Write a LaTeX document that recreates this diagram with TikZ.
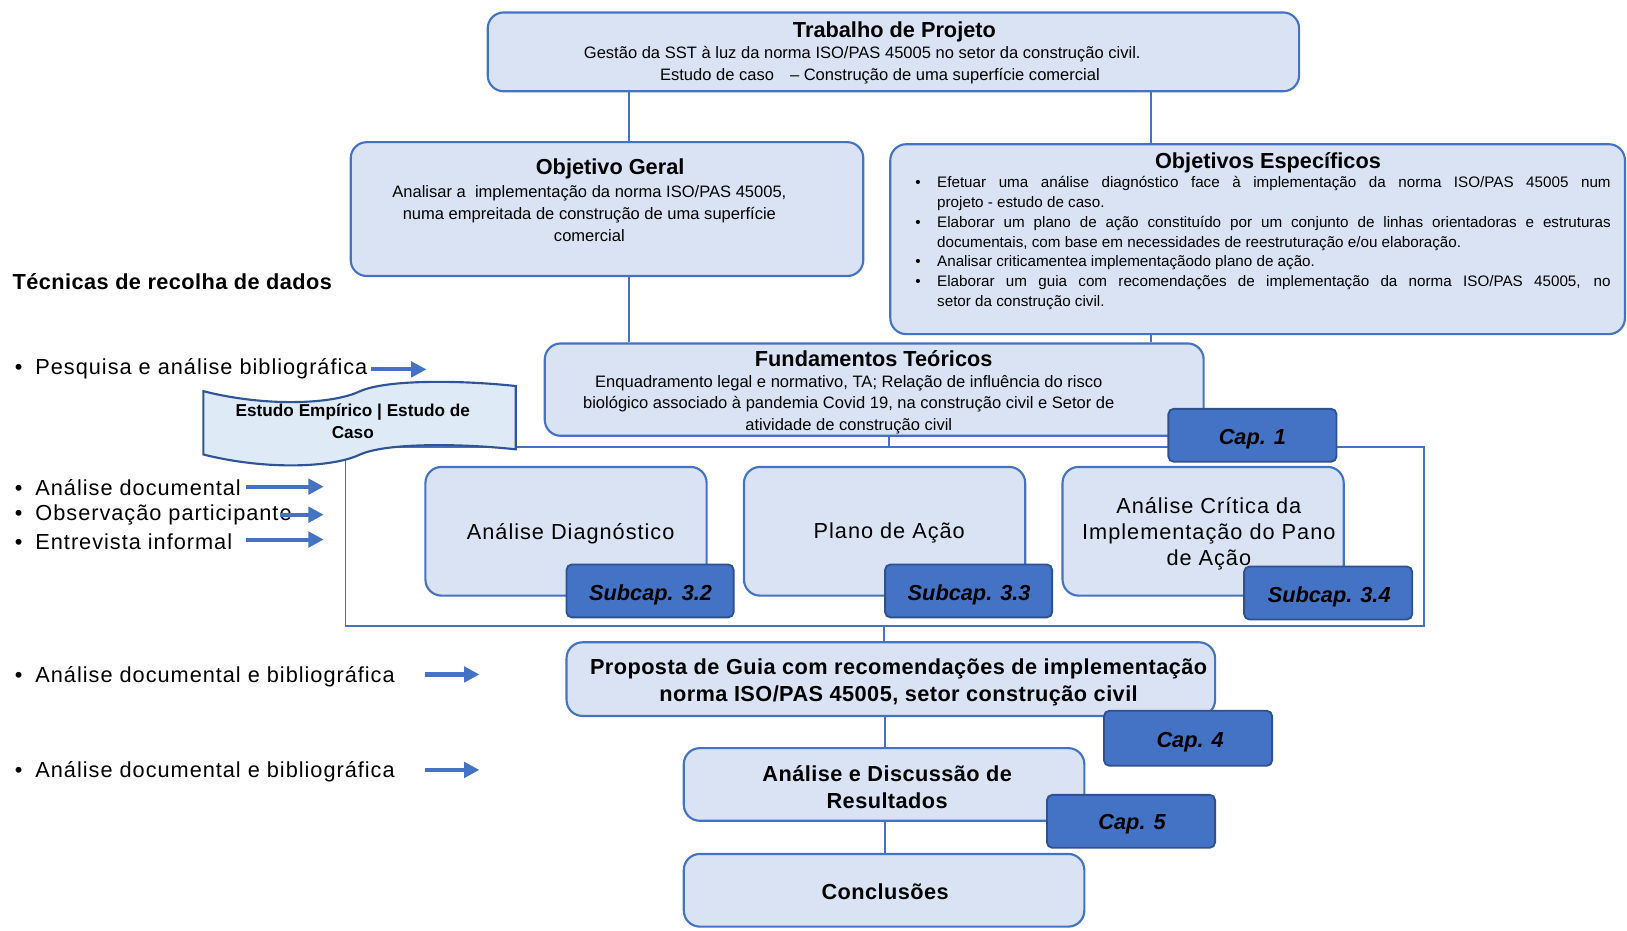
\documentclass[tikz,border=0pt]{standalone}
\usepackage{fontspec}
\setmainfont{Liberation Sans}
\newfontfamily\spacedfont[LetterSpace=4.5]{Liberation Sans}
\newfontfamily\medspaced[LetterSpace=2]{Liberation Sans}
\usetikzlibrary{fit,arrows.meta}
\definecolor{boxfill}{HTML}{DAE3F3}
\definecolor{boxline}{HTML}{4472C4}
\definecolor{tabfill}{HTML}{4472C4}
\definecolor{tabline}{HTML}{2F528F}
\definecolor{banfill}{HTML}{DEEBF7}
\definecolor{banline}{HTML}{2F5597}
\newlength{\esw}\setlength{\esw}{505pt}
\newcommand{\esj}[1]{\makebox[\esw][s]{#1}}
\newcommand{\esl}[1]{\makebox[\esw][l]{#1}}
\newcommand{\esb}{\makebox[16.3pt][l]{•}}
\newcommand{\esn}{\hspace*{16.3pt}}
\begin{document}
\begin{tikzpicture}[x=0.778pt,y=-0.778pt,
  box/.style={draw=boxline, fill=boxfill, line width=1.6pt, rounded corners=12pt, inner sep=0pt},
  tab/.style={draw=tabline, fill=tabfill, line width=1.4pt, rounded corners=4pt, inner sep=0pt},
  tabtxt/.style={font=\fontsize{16.3}{19}\selectfont\bfseries\itshape, inner sep=0pt},
  link/.style={draw=boxline, line width=1.4pt},
  arr/.style={draw=boxline, line width=3.1pt, -{Triangle[length=11.5pt,width=11.5pt]}},
  ttl/.style={font=\fontsize{16.3}{19}\selectfont\bfseries, inner sep=0pt},
  bodytxt/.style={font=\fontsize{12.4}{16.3}\selectfont, inner sep=0pt, align=center},
  itemtxt/.style={font=\spacedfont\fontsize{16.3}{19}\selectfont, inner sep=0pt, anchor=west},
  innerlbl/.style={font=\spacedfont\fontsize{16.3}{19.5}\selectfont, inner sep=0pt, align=center},
  bld/.style={font=\medspaced\bfseries\fontsize{16.3}{20.2}\selectfont, inner sep=0pt, align=center}]
\useasboundingbox (0,0) rectangle (1568,897);

% frame around the empirical study
\node[draw=boxline, line width=1.4pt, inner sep=0pt, fit={(333,431) (1372,603)}] (frame) {};

% banner
\draw[fill=banfill, draw=banline, line width=1.6pt]
  (196,377) .. controls (255,392) and (320,390) .. (347,377)
  .. controls (372,366) and (440,366) .. (497,372) -- (497,433)
  .. controls (440,427) and (372,427) .. (347,438)
  .. controls (320,451) and (255,453) .. (196,438) -- cycle;
\node[font=\bfseries\fontsize{12.9}{16.3}\selectfont, align=center, inner sep=0pt] (emp) at (340,406) {Estudo Empírico | Estudo de\\Caso};

% top box
\node[box, fit={(470,12) (1252,88)}] (tp) {};
\node[ttl] (tpt) at (862,31) {Trabalho de Projeto};
\node[bodytxt] (tpl1) at (831,52) {Gestão da SST à luz da norma ISO/PAS 45005 no setor da construção civil.};
\node[bodytxt] (tpl2) at (848,73) {Estudo de caso\hspace{12pt}– Construção de uma superfície comercial};

% objetivo geral
\node[box, fit={(338,137) (832,266)}] (og) {};
\node[ttl] (ogt) at (588,163) {Objetivo Geral};
\node[bodytxt] (ogb) at (568,206) {Analisar a \ implementação da norma ISO/PAS 45005,\\numa empreitada de construção de uma superfície\\comercial};

% objetivos especificos
\node[box, fit={(858,139) (1566,322)}] (oe) {};
\node[ttl] (oet) at (1222,157) {Objetivos Específicos};
\node[anchor=north west, inner sep=0pt, align=left, font=\fontsize{11.4}{14.8}\selectfont] (oeb) at (882,170)
 {\esb\esj{Efetuar uma análise diagnóstico face à implementação da norma ISO/PAS 45005 num}\\\esn\esl{projeto - estudo de caso.}\\\esb\esj{Elaborar um plano de ação constituído por um conjunto de linhas orientadoras e estruturas}\\\esn\esl{documentais, com base em necessidades de reestruturação e/ou elaboração.}\\\esb\esl{Analisar criticamentea implementaçãodo plano de ação.}\\\esb\esj{Elaborar um guia com recomendações de implementação da norma ISO/PAS 45005, no}\\\esn\esl{setor da construção civil.}};

% fundamentos
\node[box, fit={(525,331) (1160,420)}] (ft) {};
\node[ttl] (ftt) at (842,346) {Fundamentos Teóricos};
\node[bodytxt] (ftb) at (818,390) {Enquadramento legal e normativo, TA; Relação de influência do risco\\biológico associado à pandemia Covid 19, na construção civil e Setor de\\atividade de construção civil};
\node[tab, fit={(1126,394) (1288,445)}] (cap1) {};
\node[tabtxt] (cap1t) at (1207,423) {Cap. 1};

% inner boxes
\node[box, fit={(410,450) (681,574)}] (adg) {};
\node[innerlbl] (adgt) at (550,514) {Análise Diagnóstico};
\node[tab, fit={(546,544) (707,595)}] (s32) {};
\node[tabtxt] (s32t) at (627,573) {Subcap. 3.2};
\node[box, fit={(717,450) (988,574)}] (pa) {};
\node[innerlbl] (pat) at (857,514) {Plano de Ação};
\node[tab, fit={(853,544) (1014,595)}] (s33) {};
\node[tabtxt] (s33t) at (934,573) {Subcap. 3.3};
\node[box, fit={(1024,450) (1295,574)}] (ac) {};
\node[innerlbl] (act) at (1165,514) {Análise Crítica da\\Implementação do Pano\\de Ação};
\node[tab, fit={(1199,546) (1361,597)}] (s34) {};
\node[tabtxt] (s34t) at (1281,575) {Subcap. 3.4};

% lower chain
\node[box, fit={(546,619) (1171,690)}] (pg) {};
\node[bld] (pgt) at (866,658) {Proposta de Guia com recomendações de implementação\\norma ISO/PAS 45005, setor construção civil};
\node[tab, fit={(1064,685) (1226,738)}] (cap4) {};
\node[tabtxt] (cap4t) at (1147,715) {Cap. 4};
\node[box, fit={(659,721) (1045,791)}] (ad) {};
\node[bld] (adt) at (855,759) {Análise e Discussão de\\Resultados};
\node[tab, fit={(1009,766) (1171,817)}] (cap5) {};
\node[tabtxt] (cap5t) at (1091,794) {Cap. 5};
\node[box, fit={(659,823) (1045,893)}] (cc) {};
\node[bld] (cct) at (853,859) {Conclusões};

% connectors
\coordinate (xa) at (606,0);
\coordinate (xb) at (1109,0);
\coordinate (xc) at (857,0);
\coordinate (xd) at (852,0);
\coordinate (xe) at (853,0);
\draw[link] (tp.south -| xa) -- (og.north -| xa);
\draw[link] (tp.south -| xb) -- (oe.north -| xb);
\draw[link] (og.south -| xa) -- (ft.north -| xa);
\draw[link] (oe.south -| xb) -- (ft.north -| xb);
\draw[link] (ft.south -| xc) -- (frame.north -| xc);
\draw[link] (frame.south -| xd) -- (pg.north -| xd);
\draw[link] (pg.south -| xe) -- (ad.north -| xe);
\draw[link] (ad.south -| xe) -- (cc.north -| xe);

% left column
\node[bld, anchor=west] (tec) at (12,271) {Técnicas de recolha de dados};
\node[itemtxt] (i1) at (14,355) {\makebox[15.5pt][l]{•}Pesquisa e análise bibliográfica};
\node[itemtxt] (i2) at (14,470) {\makebox[15.5pt][l]{•}Análise documental};
\node[itemtxt] (i3) at (14,496) {\makebox[15.5pt][l]{•}Observação participante};
\node[itemtxt] (i4) at (14,522) {\makebox[15.5pt][l]{•}Entrevista informal};
\node[itemtxt] (i5) at (14,652) {\makebox[15.5pt][l]{•}Análise documental e bibliográfica};
\node[itemtxt] (i6) at (14,744) {\makebox[15.5pt][l]{•}Análise documental e bibliográfica};

\coordinate (a1s) at (358,356); \coordinate (a1e) at (411,356);
\coordinate (a2s) at (237,469); \coordinate (a2e) at (312,469);
\coordinate (a3s) at (270,496); \coordinate (a3e) at (312,496);
\coordinate (a4s) at (237,520); \coordinate (a4e) at (312,520);
\coordinate (a5s) at (410,650); \coordinate (a5e) at (462,650);
\coordinate (a6s) at (410,742); \coordinate (a6e) at (462,742);
\draw[arr] (a1s) -- (a1e);
\draw[arr] (a2s) -- (a2e);
\draw[arr] (a3s) -- (a3e);
\draw[arr] (a4s) -- (a4e);
\draw[arr] (a5s) -- (a5e);
\draw[arr] (a6s) -- (a6e);
\end{tikzpicture}
\end{document}
